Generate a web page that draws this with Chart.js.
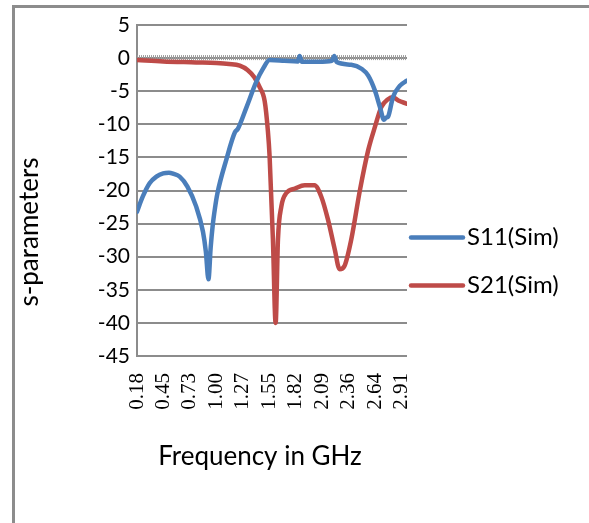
<!DOCTYPE html>
<html>
<head>
<meta charset="utf-8">
<script src="https://cdn.jsdelivr.net/npm/chart.js@4.4.0/dist/chart.umd.min.js"></script>
<style>
  html, body { margin: 0; padding: 0; background: #fff; overflow: hidden; }
  #wrap { position: relative; width: 589px; height: 523px; }
  #frame { position: absolute; left: 12px; top: 5px; width: 620px; height: 560px;
           border-top: 3px solid #8c8c8c; border-left: 3px solid #8c8c8c; }
  canvas { position: absolute; left: 0; top: 0; }
</style>
</head>
<body>
<div id="wrap">
  <div id="frame"></div>
  <canvas id="chart" width="589" height="523"></canvas>
</div>
<script>
"use strict"

// S11 (Sim), GHz / dB
const s11Freq = [0.18, 0.24, 0.31, 0.38, 0.45, 0.51, 0.56, 0.62, 0.70, 0.79, 0.86, 0.89, 0.917, 0.94, 0.96, 0.985, 1.01, 1.10, 1.19, 1.22, 1.31, 1.41, 1.48, 1.548, 1.70, 1.84, 1.858, 1.88, 2.05, 2.19, 2.215, 2.24, 2.39, 2.50, 2.565, 2.634, 2.686, 2.727, 2.75, 2.771, 2.82, 2.89, 2.965]
const s11Vals = [-23.2, -20.9, -18.9, -17.9, -17.4, -17.3, -17.5, -17.9, -19.4, -22.4, -26.2, -29.2, -33.4, -28.6, -25.4, -22.6, -20.4, -15.4, -11.2, -10.7, -7.4, -3.6, -1.6, -0.3, -0.4, -0.5, 0.3, -0.55, -0.55, -0.4, 0.3, -0.6, -1.0, -1.65, -2.65, -4.9, -7.4, -9.3, -9.0, -8.8, -5.9, -4.2, -3.4]

// S21 (Sim)
const s21Freq = [0.18, 0.45, 0.79, 1.0, 1.13, 1.24, 1.32, 1.39, 1.445, 1.497, 1.53, 1.548, 1.582, 1.61, 1.634, 1.669, 1.72, 1.81, 1.91, 2.01, 2.08, 2.15, 2.22, 2.27, 2.32, 2.39, 2.48, 2.565, 2.634, 2.70, 2.77, 2.82, 2.875, 2.965]
const s21Vals = [-0.3, -0.5, -0.65, -0.75, -0.9, -1.15, -1.8, -2.9, -4.4, -6.5, -11, -14.9, -27.4, -40, -27.4, -22.4, -20.4, -19.7, -19.2, -19.2, -20.9, -24.4, -28.9, -31.9, -31.4, -27.4, -19.9, -13.9, -10.4, -7.4, -6.2, -5.9, -6.4, -6.9]

// category labels shown under the axis
const tickVals = [0.18, 0.453, 0.726, 0.999, 1.272, 1.545, 1.818, 2.091, 2.364, 2.637, 2.91]
const tickLabels = ['0.18', '0.45', '0.73', '1.00', '1.27', '1.55', '1.82', '2.09', '2.36', '2.64', '2.91']

const seriesNames = ['S11(Sim)', 'S21(Sim)']
const seriesColors = ['#4A7EBB', '#BE4B48']

const toPoints = (xs, ys) => xs.map((x, i) => ({ x: x, y: ys[i] }))

const sansFont = 'Lato, "Open Sans", sans-serif'

const extras = {
    id: 'extras',
    beforeDatasetsDraw(chart) {
        // the hatched horizontal axis at 0
        const { ctx, chartArea, scales } = chart
        const y0 = scales.y.getPixelForValue(0)
        ctx.save()
        ctx.strokeStyle = '#9c9c9c'
        ctx.lineWidth = 5
        ctx.setLineDash([1, 1])
        ctx.beginPath()
        ctx.moveTo(chartArea.left, y0 - 0.5)
        ctx.lineTo(chartArea.right, y0 - 0.5)
        ctx.stroke()
        ctx.restore()
    },
    afterDraw(chart) {
        const { ctx, chartArea } = chart
        ctx.save()
        ctx.fillStyle = '#000'
        ctx.textBaseline = 'middle'
        ctx.textAlign = 'center'
        ctx.font = '26px ' + sansFont
        ctx.fillText('Frequency in GHz', 260, 457)
        ctx.translate(30, 232)
        ctx.rotate(-Math.PI / 2)
        ctx.fillText('s-parameters', 0, 0)
        ctx.restore()

        // legend
        ctx.save()
        const mid = chart.height / 2
        chart.data.datasets.forEach((ds, i) => {
            const y = mid - 24 + i * 48
            ctx.strokeStyle = ds.borderColor
            ctx.lineWidth = 4.5
            ctx.lineCap = 'round'
            ctx.beginPath()
            ctx.moveTo(chartArea.right + 4, y)
            ctx.lineTo(chartArea.right + 56, y)
            ctx.stroke()
            ctx.fillStyle = '#000'
            ctx.font = '24px ' + sansFont
            ctx.textBaseline = 'middle'
            ctx.textAlign = 'left'
            ctx.fillText(ds.label, chartArea.right + 60, y)
        })
        ctx.restore()
    }
}

new Chart(document.getElementById('chart'), {
    type: 'line',
    data: {
        datasets: [{
            label: seriesNames[0],
            data: toPoints(s11Freq, s11Vals),
            borderColor: seriesColors[0],
            backgroundColor: seriesColors[0]
        }, {
            label: seriesNames[1],
            data: toPoints(s21Freq, s21Vals),
            borderColor: seriesColors[1],
            backgroundColor: seriesColors[1]
        }]
    },
    options: {
        responsive: false,
        animation: false,
        devicePixelRatio: 1,
        layout: { padding: { left: 0, top: 25, right: 182, bottom: 0 } },
        elements: {
            point: { radius: 0 },
            line: { borderWidth: 4.5, cubicInterpolationMode: 'monotone', borderCapStyle: 'round', borderJoinStyle: 'round' }
        },
        plugins: {
            legend: { display: false },
            tooltip: { enabled: false }
        },
        scales: {
            x: {
                type: 'linear',
                min: 0.18,
                max: 2.965,
                afterBuildTicks: (scale) => {
                    scale.ticks = tickVals.map(v => ({ value: v }))
                },
                afterFit: (scale) => { scale.height = 167 },
                grid: { display: false, drawTicks: false },
                border: { display: false },
                ticks: {
                    autoSkip: false,
                    maxRotation: 90,
                    minRotation: 90,
                    padding: 17,
                    color: '#000',
                    font: { family: '"Liberation Serif", serif', size: 21 },
                    callback: (value, index) => tickLabels[index]
                }
            },
            y: {
                min: -45,
                max: 5,
                afterFit: (scale) => { scale.width = 137 },
                grid: { color: '#8c8c8c', lineWidth: 2, drawTicks: false },
                border: { display: true, color: '#8c8c8c', width: 2 },
                ticks: {
                    stepSize: 5,
                    padding: 7,
                    color: '#000',
                    font: { family: sansFont, size: 21 }
                }
            }
        }
    },
    plugins: [extras]
})
</script>
</body>
</html>
